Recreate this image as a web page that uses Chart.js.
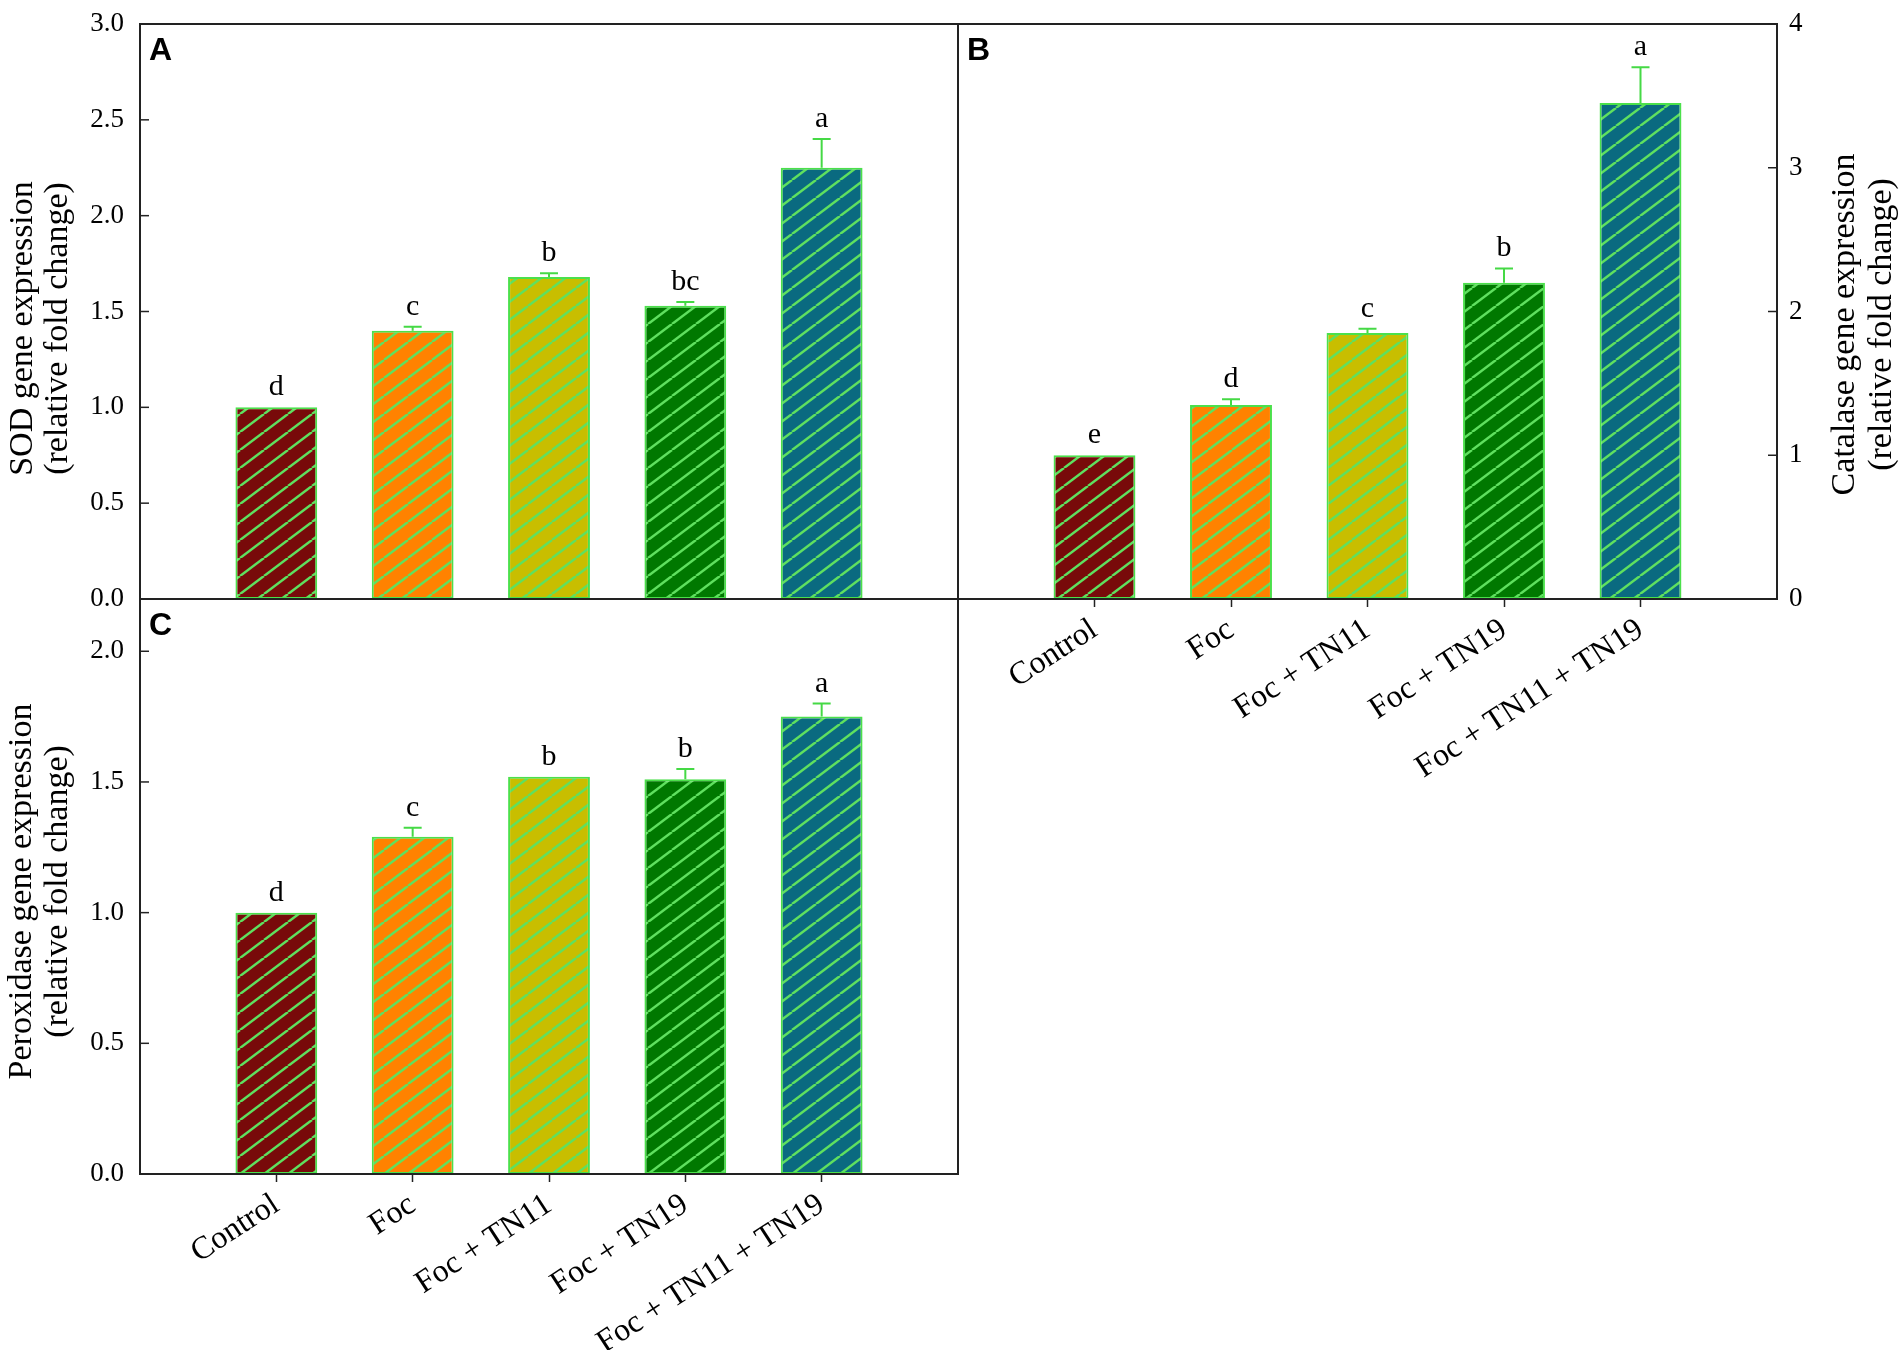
<!DOCTYPE html>
<html>
<head>
<meta charset="utf-8">
<script src="https://cdn.jsdelivr.net/npm/chart.js@4.4.1/dist/chart.umd.min.js"></script>
<style>
  body { margin: 0; background: #fff; }
  #wrap { position: relative; width: 1904px; height: 1350px; background: #fff; overflow: hidden; }
  canvas { position: absolute; }
</style>
</head>
<body>
<div id="wrap">
  <canvas id="chartA" width="980" height="620" style="left:0;top:0"></canvas>
  <canvas id="chartC" width="980" height="770" style="left:0;top:580px"></canvas>
  <canvas id="chartB" width="960" height="800" style="left:944px;top:0"></canvas>
</div>
<script>
// treatments
const categories = ["Control", "Foc", "Foc + TN11", "Foc + TN19", "Foc + TN11 + TN19"];

// A: SOD
const sodValues = [1.0, 1.40, 1.68, 1.53, 2.25];
const sodErrors = [0, 0.02, 0.02, 0.02, 0.15];
const sodLetters = ["d", "c", "b", "bc", "a"];
const sodTicks = [0, 0.5, 1.0, 1.5, 2.0, 2.5, 3.0];

// B: Catalase
const catValues = [1.0, 1.35, 1.85, 2.2, 3.45];
const catErrors = [0, 0.04, 0.03, 0.1, 0.25];
const catLetters = ["e", "d", "c", "b", "a"];
const catTicks = [0, 1, 2, 3, 4];

// C: Peroxidase
const perValues = [1.0, 1.29, 1.52, 1.51, 1.75];
const perErrors = [0, 0.035, 0, 0.04, 0.05];
const perLetters = ["d", "c", "b", "b", "a"];
const perTicks = [0, 0.5, 1.0, 1.5, 2.0];

const barColors = ["#780a0a", "#ff8200", "#c8be00", "#007800", "#0a6a80"];

// diagonal hatch fill
function hatch(color) {
  const c = document.createElement("canvas");
  c.width = 24; c.height = 18;
  const g = c.getContext("2d");
  g.fillStyle = color;
  g.fillRect(0, 0, 24, 18);
  g.strokeStyle = "#5fe05f";
  g.lineWidth = 2.5;
  for (let k = -1; k <= 1; k++) {
    g.beginPath();
    g.moveTo(k * 24, 18);
    g.lineTo(k * 24 + 24, 0);
    g.stroke();
  }
  return g.createPattern(c, "repeat");
}

function panelPlugin(p) {
  return {
    id: "panel" + p.letter,
    afterDatasetsDraw(chart) {
      const ctx = chart.ctx, meta = chart.getDatasetMeta(0), y = chart.scales.y;
      ctx.save();
      ctx.strokeStyle = "#45d945";
      ctx.lineWidth = 2;
      ctx.fillStyle = "#000";
      ctx.font = '30px "Liberation Serif"';
      ctx.textAlign = "center";
      ctx.textBaseline = "alphabetic";
      meta.data.forEach((bar, i) => {
        const top = y.getPixelForValue(p.values[i] + p.errors[i]);
        if (p.errors[i] > 0) {
          const base = y.getPixelForValue(p.values[i]);
          ctx.beginPath();
          ctx.moveTo(bar.x, base); ctx.lineTo(bar.x, top);
          ctx.moveTo(bar.x - 9, top); ctx.lineTo(bar.x + 9, top);
          ctx.stroke();
        }
        ctx.fillText(p.letters[i], bar.x, top - 12);
      });
      ctx.restore();
    },
    afterDraw(chart) {
      const ctx = chart.ctx, a = chart.chartArea, y = chart.scales.y;
      ctx.save();
      ctx.strokeStyle = "#222";
      ctx.lineWidth = 2;
      ctx.strokeRect(a.left, a.top, a.right - a.left, a.bottom - a.top);
      // ticks point inward on the value axis
      ctx.lineWidth = 1.5;
      y.ticks.forEach(t => {
        const py = y.getPixelForValue(t.value);
        ctx.beginPath();
        if (p.side === "left") { ctx.moveTo(a.left, py); ctx.lineTo(a.left + 9, py); }
        else { ctx.moveTo(a.right, py); ctx.lineTo(a.right - 9, py); }
        ctx.stroke();
      });
      ctx.fillStyle = "#000";
      ctx.font = 'bold 32px "Liberation Sans"';
      ctx.textAlign = "left";
      ctx.textBaseline = "alphabetic";
      ctx.fillText(p.letter, a.left + 9, a.top + 36);
      // two-line axis title, reading bottom to top
      ctx.font = '34px "Liberation Serif"';
      ctx.textAlign = "center";
      ctx.textBaseline = "middle";
      const cy = (a.top + a.bottom) / 2 + p.titleDy;
      p.title.forEach((line, k) => {
        ctx.save();
        ctx.translate(p.titleX[k], cy);
        ctx.rotate(-Math.PI / 2);
        ctx.fillText(line, 0, 0);
        ctx.restore();
      });
      ctx.restore();
    }
  };
}

function makeChart(id, p) {
  return new Chart(document.getElementById(id), {
    type: "bar",
    data: {
      datasets: [{
        data: p.values.map((v, i) => ({ x: i + 1, y: v })),
        backgroundColor: barColors.map(hatch),
        borderColor: "#4be04b",
        borderWidth: 2,
        borderSkipped: false,
        barPercentage: 0.6,
        categoryPercentage: 1
      }]
    },
    options: {
      responsive: false,
      animation: false,
      events: [],
      layout: { padding: p.padding },
      plugins: { legend: { display: false }, tooltip: { enabled: false } },
      scales: {
        x: {
          type: "linear",
          min: 0,
          max: 6,
          offset: false,
          display: p.showX,
          afterBuildTicks: ax => { ax.ticks = categories.map((c, i) => ({ value: i + 1 })); },
          afterFit: ax => { ax.height = p.xHeight; },
          grid: { display: true, offset: false, drawOnChartArea: false, drawTicks: true, tickLength: 8, tickColor: "#222", tickWidth: 1.5 },
          border: { display: false },
          ticks: {
            autoSkip: false,
            minRotation: 33,
            maxRotation: 33,
            padding: 4,
            color: "#000",
            font: { family: "Liberation Serif", size: 32 },
            callback: v => categories[v - 1] ?? ""
          }
        },
        y: {
          position: p.side,
          min: 0,
          max: p.max,
          afterBuildTicks: ax => { ax.ticks = p.ticks.map(v => ({ value: v })); },
          afterFit: ax => { ax.width = p.yWidth; },
          // hidden grid, its tick length only sets the label gap
          grid: { display: false, drawTicks: true, tickLength: p.tickGap },
          border: { display: false },
          ticks: {
            padding: 0,
            color: "#000",
            font: { family: "Liberation Serif", size: 27 },
            callback: v => p.decimals ? v.toFixed(1) : String(v)
          }
        }
      }
    },
    plugins: [panelPlugin(p)]
  });
}

makeChart("chartA", {
  letter: "A", values: sodValues, errors: sodErrors, letters: sodLetters, ticks: sodTicks,
  max: 3, decimals: true, side: "left", showX: false, xHeight: 0, yWidth: 140, tickGap: 16,
  padding: { top: 24, right: 22, bottom: 21, left: 0 },
  title: ["SOD gene expression", "(relative fold change)"], titleX: [23, 58], titleDy: 17
});

makeChart("chartB", {
  letter: "B", values: catValues, errors: catErrors, letters: catLetters, ticks: catTicks,
  max: 4, decimals: false, side: "right", showX: true, xHeight: 201, yWidth: 127, tickGap: 12,
  padding: { top: 24, right: 0, bottom: 0, left: 14 },
  title: ["Catalase gene expression", "(relative fold change)"], titleX: [901, 938], titleDy: 13
});

makeChart("chartC", {
  letter: "C", values: perValues, errors: perErrors, letters: perLetters, ticks: perTicks,
  max: 2.2, decimals: true, side: "left", showX: true, xHeight: 176, yWidth: 140, tickGap: 16,
  padding: { top: 19, right: 22, bottom: 0, left: 0 },
  title: ["Peroxidase gene expression", "(relative fold change)"], titleX: [22, 58], titleDy: 5
});
</script>
</body>
</html>
